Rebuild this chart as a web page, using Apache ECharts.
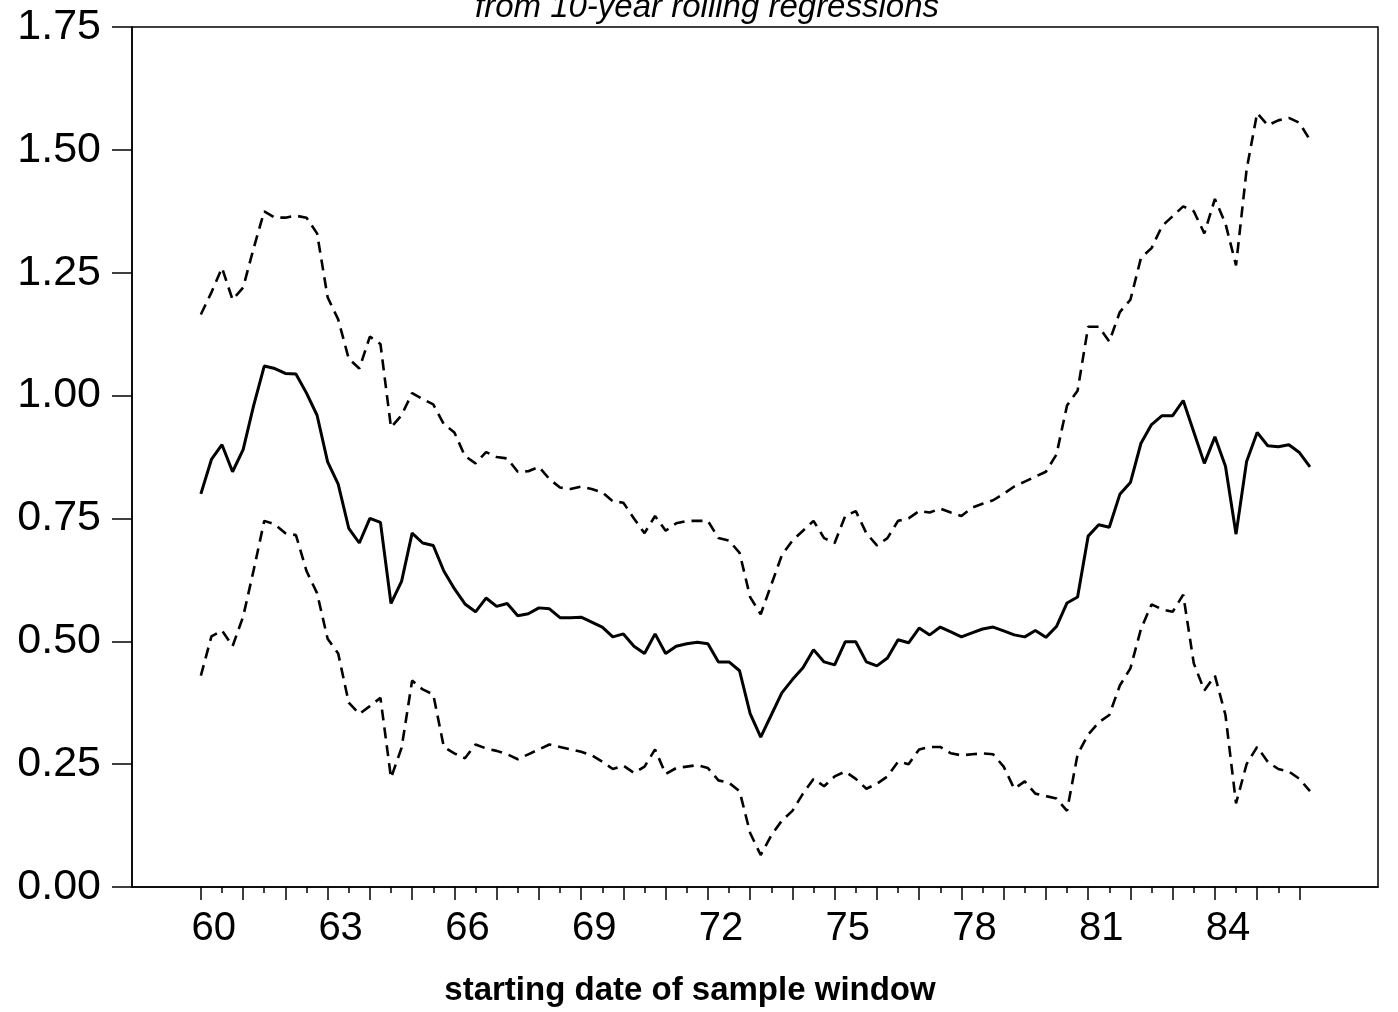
<!DOCTYPE html>
<html>
<head>
<meta charset="utf-8">
<script src="https://cdn.jsdelivr.net/npm/echarts@6.0.0/dist/echarts.min.js"></script>
<style>
  body { margin: 0; background: #fff; }
  #chart { width: 1398px; height: 1012px; }
</style>
</head>
<body>
<div id="chart"></div>
<script>
// quarterly points, first window starting 1960:1
const startYear = 60;
const pointsPerYear = 4;

const estimate = [
  0.80, 0.87, 0.90, 0.845, 0.89, 0.98, 1.06, 1.055, 1.045, 1.044,
  1.005, 0.96, 0.865, 0.82, 0.73, 0.70, 0.75, 0.742, 0.577, 0.622,
  0.72, 0.70, 0.695, 0.643, 0.607, 0.576, 0.56, 0.588, 0.571, 0.577,
  0.552, 0.556, 0.568, 0.566, 0.548, 0.548, 0.549, 0.539, 0.529, 0.509,
  0.515, 0.49, 0.475, 0.515, 0.475, 0.49, 0.495, 0.498, 0.495, 0.458,
  0.458, 0.44, 0.353, 0.305, 0.35, 0.395, 0.422, 0.446, 0.483, 0.458,
  0.452, 0.499, 0.499, 0.458, 0.45, 0.466, 0.503, 0.497, 0.527, 0.513,
  0.529, 0.519, 0.509, 0.517, 0.525, 0.529, 0.521, 0.513, 0.509, 0.522,
  0.508, 0.53, 0.578, 0.59, 0.714, 0.737, 0.732, 0.799, 0.823, 0.903,
  0.941, 0.959, 0.959, 0.99, 0.926, 0.862, 0.916, 0.856, 0.718, 0.866,
  0.925, 0.898, 0.896, 0.90, 0.884, 0.855
];

const upperBand = [
  1.165, 1.21, 1.26, 1.195, 1.22, 1.30, 1.375, 1.362, 1.362, 1.366,
  1.362, 1.33, 1.20, 1.155, 1.075, 1.055, 1.12, 1.105, 0.935, 0.96,
  1.005, 0.993, 0.982, 0.942, 0.925, 0.877, 0.862, 0.885, 0.875, 0.872,
  0.845, 0.846, 0.855, 0.83, 0.813, 0.81, 0.815, 0.81, 0.803, 0.785,
  0.782, 0.75, 0.72, 0.755, 0.725, 0.74, 0.745, 0.745, 0.745, 0.71,
  0.705, 0.68, 0.59, 0.555, 0.615, 0.675, 0.705, 0.725, 0.745, 0.71,
  0.70, 0.755, 0.765, 0.72, 0.695, 0.71, 0.745, 0.75, 0.765, 0.762,
  0.77, 0.762, 0.755, 0.772, 0.78, 0.787, 0.80, 0.815, 0.825, 0.835,
  0.845, 0.88, 0.98, 1.01, 1.14, 1.14, 1.11, 1.17, 1.195, 1.28,
  1.30, 1.345, 1.365, 1.385, 1.375, 1.33, 1.40, 1.35, 1.265, 1.46,
  1.575, 1.55, 1.56, 1.565, 1.555, 1.52
];

const lowerBand = [
  0.43, 0.51, 0.522, 0.49, 0.55, 0.645, 0.745, 0.738, 0.72, 0.716,
  0.643, 0.598, 0.505, 0.475, 0.375, 0.352, 0.368, 0.385, 0.222, 0.283,
  0.42, 0.402, 0.392, 0.285, 0.272, 0.262, 0.29, 0.282, 0.277, 0.27,
  0.26, 0.27, 0.28, 0.29, 0.285, 0.28, 0.275, 0.268, 0.255, 0.24,
  0.247, 0.232, 0.245, 0.28, 0.23, 0.242, 0.245, 0.248, 0.242, 0.217,
  0.212, 0.195, 0.11, 0.065, 0.105, 0.135, 0.155, 0.19, 0.22, 0.205,
  0.225, 0.235, 0.22, 0.20, 0.21, 0.225, 0.255, 0.25, 0.28, 0.285,
  0.285, 0.272, 0.268, 0.27, 0.272, 0.27, 0.245, 0.20, 0.215, 0.19,
  0.185, 0.18, 0.155, 0.27, 0.31, 0.335, 0.35, 0.41, 0.445, 0.525,
  0.575, 0.565, 0.56, 0.595, 0.455, 0.40, 0.43, 0.35, 0.17, 0.25,
  0.285, 0.255, 0.24, 0.235, 0.22, 0.195
];

const yearTicks = [60, 61, 62, 63, 64, 65, 66, 67, 68, 69, 70, 71, 72, 73,
  74, 75, 76, 77, 78, 79, 80, 81, 82, 83, 84, 85, 86];
const halfYearTicks = [60.5, 61.5, 62.5, 63.5, 64.5, 65.5, 66.5, 67.5, 68.5,
  69.5, 70.5, 71.5, 72.5, 73.5, 74.5, 75.5, 76.5, 77.5, 78.5, 79.5, 80.5,
  81.5, 82.5, 83.5, 84.5, 85.5];
const yearLabels = [60, 63, 66, 69, 72, 75, 78, 81, 84];

const font = "Liberation Sans, Arial, Helvetica, sans-serif";

function toPairs(values) {
  return values.map((v, i) => [startYear + i / pointsPerYear, v]);
}

const myChart = echarts.init(document.getElementById("chart"));

const option = {
  backgroundColor: "#fff",
  animation: false,
  title: {
    text: "from 10-year rolling regressions",
    left: 470,
    top: -14,
    textStyle: {
      fontFamily: font,
      fontStyle: "italic",
      fontWeight: "normal",
      fontSize: 33,
      color: "#000"
    }
  },
  grid: {
    left: 132,
    right: 20,
    top: 27,
    bottom: 122,
    show: true,
    borderColor: "#000",
    borderWidth: 1.5
  },
  xAxis: [
    {
      type: "value",
      min: 58.37,
      max: 87.86,
      name: "starting date of sample window",
      nameLocation: "middle",
      nameGap: 87,
      nameTextStyle: {
        fontFamily: font,
        fontWeight: "bold",
        fontSize: 33,
        color: "#000",
        padding: [0, 130, 0, 0]
      },
      axisLine: { show: true, lineStyle: { color: "#000", width: 1.5 } },
      axisTick: {
        customValues: yearTicks,
        length: 13,
        lineStyle: { color: "#000", width: 1.5 }
      },
      axisLabel: {
        customValues: yearLabels,
        fontFamily: font,
        fontSize: 40,
        color: "#000",
        margin: 22,
        padding: [0, 0, 0, 26]
      },
      splitLine: { show: false }
    },
    {
      type: "value",
      min: 58.37,
      max: 87.86,
      position: "bottom",
      axisLine: { show: false },
      axisTick: {
        customValues: halfYearTicks,
        length: 6,
        lineStyle: { color: "#000", width: 1.5 }
      },
      axisLabel: { show: false },
      splitLine: { show: false }
    }
  ],
  yAxis: {
    type: "value",
    min: 0,
    max: 1.75,
    interval: 0.25,
    axisLine: { show: true, lineStyle: { color: "#000", width: 1.5 } },
    axisTick: { length: 20, lineStyle: { color: "#000", width: 1.5 } },
    axisLabel: {
      fontFamily: font,
      fontSize: 43,
      color: "#000",
      margin: 31,
      formatter: v => v.toFixed(2)
    },
    splitLine: { show: false }
  },
  series: [
    {
      name: "upper",
      type: "line",
      symbol: "none",
      data: toPairs(upperBand),
      lineStyle: { color: "#000", width: 2.6, type: [11, 7] }
    },
    {
      name: "estimate",
      type: "line",
      symbol: "none",
      data: toPairs(estimate),
      lineStyle: { color: "#000", width: 3 }
    },
    {
      name: "lower",
      type: "line",
      symbol: "none",
      data: toPairs(lowerBand),
      lineStyle: { color: "#000", width: 2.6, type: [11, 7] }
    }
  ]
};

myChart.setOption(option, true);
</script>
</body>
</html>
